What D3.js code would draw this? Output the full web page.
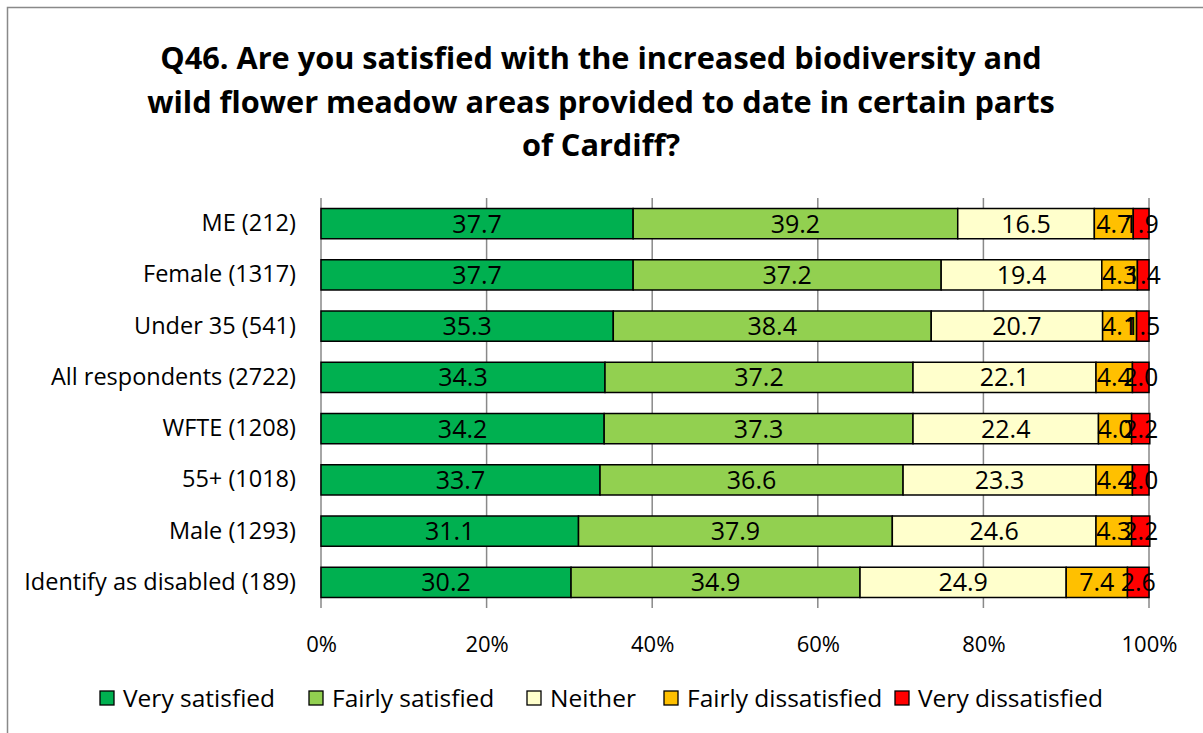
<!DOCTYPE html>
<html>
<head>
<meta charset="utf-8">
<script src="https://cdn.jsdelivr.net/npm/d3@7"></script>
<style>
  body { margin: 0; background: #fff; }
  svg { display: block; font-family: "Open Sans", Lato, sans-serif; }
</style>
</head>
<body>
<svg id="chart" width="1203" height="733"></svg>
<script>
// Respondent groups, top to bottom
const categories = [
  "ME (212)",
  "Female (1317)",
  "Under 35 (541)",
  "All respondents (2722)",
  "WFTE (1208)",
  "55+ (1018)",
  "Male (1293)",
  "Identify as disabled (189)"
];

// Response options (stack order, left to right)
const seriesNames = ["Very satisfied", "Fairly satisfied", "Neither", "Fairly dissatisfied", "Very dissatisfied"];
const seriesColors = ["#00B050", "#92D050", "#FFFFCC", "#FFC000", "#FF0000"];

// Percentages per response option, in category order
const verySatisfied      = [37.7, 37.7, 35.3, 34.3, 34.2, 33.7, 31.1, 30.2];
const fairlySatisfied    = [39.2, 37.2, 38.4, 37.2, 37.3, 36.6, 37.9, 34.9];
const neither            = [16.5, 19.4, 20.7, 22.1, 22.4, 23.3, 24.6, 24.9];
const fairlyDissatisfied = [4.7, 4.3, 4.1, 4.4, 4.0, 4.4, 4.3, 7.4];
const veryDissatisfied   = [1.9, 1.4, 1.5, 2.0, 2.2, 2.0, 2.2, 2.6];

const tickValues = [0, 20, 40, 60, 80, 100];
const titleLines = [
  "Q46. Are you satisfied with the increased biodiversity and",
  "wild flower meadow areas provided to date in certain parts",
  "of Cardiff?"
];

const seriesValues = [verySatisfied, fairlySatisfied, neither, fairlyDissatisfied, veryDissatisfied];
const rows = categories.map((c, i) => {
  const r = { category: c };
  seriesNames.forEach((s, k) => r[s] = seriesValues[k][i]);
  return r;
});

const svg = d3.select("#chart");
const W = 1203, H = 733;

// Chart frame
svg.append("rect")
  .attr("x", 7.5).attr("y", 7.5)
  .attr("width", W + 20).attr("height", H + 20)
  .attr("fill", "#fff").attr("stroke", "#898989").attr("stroke-width", 1.5);

// Title
svg.append("g").selectAll("text").data(titleLines).join("text")
  .attr("x", 601)
  .attr("y", (d, i) => 69 + i * 43.5)
  .attr("text-anchor", "middle")
  .attr("font-weight", "bold")
  .attr("font-size", 30.7)
  .attr("fill", "#000")
  .text(d => d);

const plot = { left: 321, right: 1149, top: 198, bottom: 608 };

const x = d3.scaleLinear().domain([0, 100]).range([plot.left, plot.right]);
const y = d3.scaleBand().domain(categories).range([plot.top, plot.bottom]).paddingInner(0.41).paddingOuter(0.205);

// Vertical gridlines
svg.append("g").selectAll("line").data(tickValues).join("line")
  .attr("x1", d => x(d)).attr("x2", d => x(d))
  .attr("y1", plot.top).attr("y2", plot.bottom)
  .attr("stroke", "#898989").attr("stroke-width", 1.5);

// Stacked bars
const stack = d3.stack().keys(seriesNames);
const layers = stack(rows);

const layerG = svg.append("g").selectAll("g").data(layers).join("g")
  .attr("fill", (d, i) => seriesColors[i]);

layerG.selectAll("rect").data(d => d).join("rect")
  .attr("x", d => x(d[0]))
  .attr("y", d => y(d.data.category))
  .attr("width", d => x(d[1]) - x(d[0]))
  .attr("height", y.bandwidth())
  .attr("stroke", "#000").attr("stroke-width", 1.5);

// Segment value labels
layerG.selectAll("text").data(d => d).join("text")
  .attr("x", d => (x(d[0]) + x(d[1])) / 2)
  .attr("y", d => y(d.data.category) + y.bandwidth() / 2)
  .attr("dy", "0.36em")
  .attr("text-anchor", "middle")
  .attr("font-size", 25)
  .attr("fill", "#000")
  .text(d => (d[1] - d[0]).toFixed(1));

// Category axis
const yAxis = svg.append("g")
  .attr("transform", `translate(${plot.left},0)`)
  .call(d3.axisLeft(y).tickSize(0).tickPadding(25));
yAxis.select(".domain").remove();
yAxis.selectAll("text").attr("font-size", 23.5).attr("fill", "#000")
  .attr("font-family", "'Open Sans', Lato, sans-serif");

// Percentage axis
const xAxis = svg.append("g")
  .attr("transform", `translate(0,${plot.bottom})`)
  .call(d3.axisBottom(x).tickValues(tickValues).tickFormat(d => d + "%").tickSize(0).tickPadding(28));
xAxis.select(".domain").remove();
xAxis.selectAll("text").attr("font-size", 22).attr("fill", "#000")
  .attr("font-family", "'Open Sans', Lato, sans-serif");

// Legend
const legendX = [100, 309, 527, 664, 895];
const legend = svg.append("g").selectAll("g").data(seriesNames).join("g")
  .attr("transform", (d, i) => `translate(${legendX[i]},691)`);
legend.append("rect")
  .attr("width", 14).attr("height", 14)
  .attr("fill", (d, i) => seriesColors[i])
  .attr("stroke", "#000").attr("stroke-width", 1.3);
legend.append("text")
  .attr("x", 23).attr("y", 7).attr("dy", "0.36em")
  .attr("font-size", 24.5).attr("fill", "#000")
  .text(d => d);
</script>
</body>
</html>
